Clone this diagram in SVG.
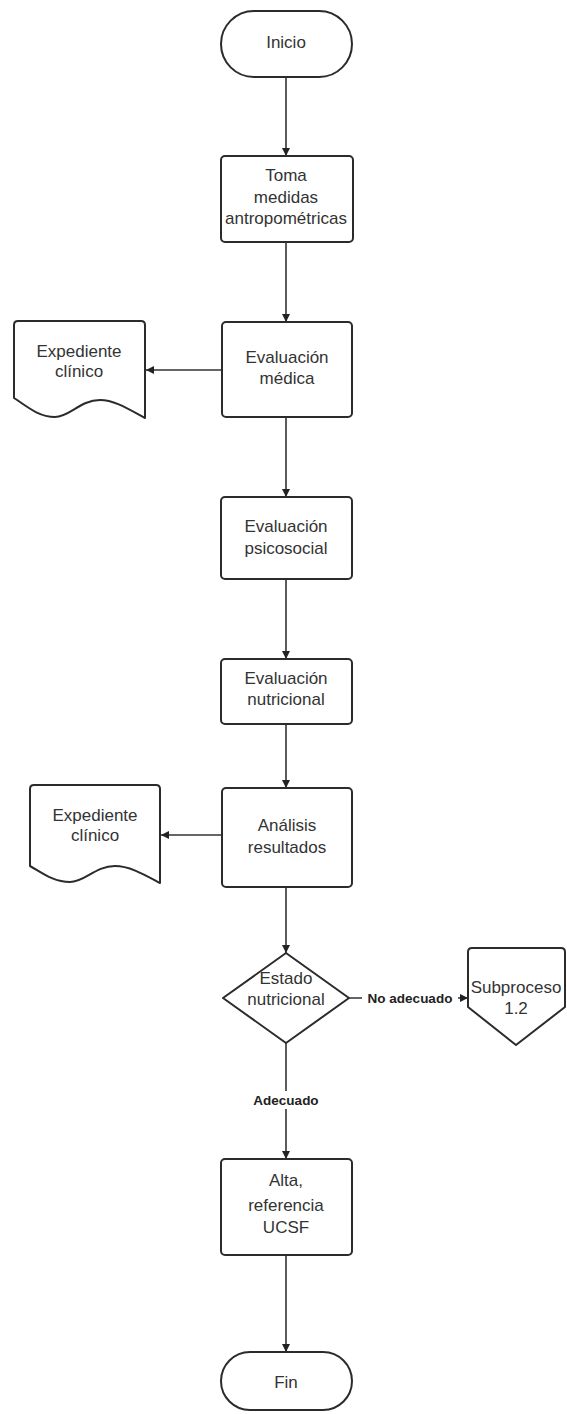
<svg xmlns="http://www.w3.org/2000/svg" width="567" height="1414" viewBox="0 0 567 1414">
<style>
.s{fill:#fff;stroke:#2b2b2b;stroke-width:2;stroke-linejoin:round}
.t{font-family:"Liberation Sans",Arial,sans-serif;font-size:17px;fill:#333;text-anchor:middle}
.l{font-family:"Liberation Sans",Arial,sans-serif;font-size:13.5px;font-weight:bold;fill:#222;text-anchor:middle}
.c{fill:none;stroke:#333;stroke-width:1.6}
</style>
<defs>
<marker id="a" viewBox="0 0 10 10" refX="10" refY="5" markerWidth="5" markerHeight="5" orient="auto" markerUnits="strokeWidth">
<path d="M0,0 L10,5 L0,10 z" fill="#222"/>
</marker>
</defs>
<rect width="567" height="1414" fill="#fff"/>
<g id="connectors">
<line class="c" x1="286" y1="77" x2="286" y2="156" marker-end="url(#a)"/>
<line class="c" x1="286" y1="242" x2="286" y2="322" marker-end="url(#a)"/>
<line class="c" x1="222" y1="370" x2="146" y2="370" marker-end="url(#a)"/>
<line class="c" x1="286" y1="417" x2="286" y2="497" marker-end="url(#a)"/>
<line class="c" x1="286" y1="579" x2="286" y2="659" marker-end="url(#a)"/>
<line class="c" x1="286" y1="724" x2="286" y2="788" marker-end="url(#a)"/>
<line class="c" x1="222" y1="835" x2="161" y2="835" marker-end="url(#a)"/>
<line class="c" x1="286" y1="887" x2="286" y2="953" marker-end="url(#a)"/>
<line class="c" x1="349" y1="998" x2="468" y2="998" marker-end="url(#a)"/>
<line class="c" x1="286" y1="1043" x2="286" y2="1159" marker-end="url(#a)"/>
<line class="c" x1="286" y1="1255" x2="286" y2="1352" marker-end="url(#a)"/>
<rect x="362" y="989" width="96" height="18" fill="#fff"/>
<text class="l" x="410" y="1003">No adecuado</text>
<rect x="250" y="1091" width="72" height="18" fill="#fff"/>
<text class="l" x="286" y="1105">Adecuado</text>
</g>
<g id="inicio">
<rect class="s" x="221" y="11" width="131" height="66" rx="33"/>
<text class="t" x="286" y="48">Inicio</text>
</g>
<g id="toma">
<rect class="s" x="221" y="156" width="132" height="86" rx="4"/>
<text class="t" x="286" y="181">Toma</text>
<text class="t" x="286" y="203">medidas</text>
<text class="t" x="286" y="224">antropométricas</text>
</g>
<g id="medica">
<rect class="s" x="222" y="322" width="130" height="95" rx="4"/>
<text class="t" x="287" y="363">Evaluación</text>
<text class="t" x="287" y="384">médica</text>
</g>
<g id="expediente1">
<path class="s" d="M18,321 H141 Q145,321 145,325 V418 C130,410 115,400 100,400 C80,400 70,417 55,417 C38,417 25,405 14,398 V325 Q14,321 18,321 Z"/>
<text class="t" x="79" y="357">Expediente</text>
<text class="t" x="79" y="377">clínico</text>
</g>
<g id="psicosocial">
<rect class="s" x="221" y="497" width="131" height="82" rx="4"/>
<text class="t" x="286" y="532">Evaluación</text>
<text class="t" x="286" y="554">psicosocial</text>
</g>
<g id="nutricional">
<rect class="s" x="221" y="659" width="131" height="65" rx="4"/>
<text class="t" x="286" y="684">Evaluación</text>
<text class="t" x="286" y="705">nutricional</text>
</g>
<g id="analisis">
<rect class="s" x="222" y="788" width="130" height="99" rx="4"/>
<text class="t" x="287" y="831">Análisis</text>
<text class="t" x="287" y="853">resultados</text>
</g>
<g id="expediente2">
<path class="s" d="M34,785 H156 Q160,785 160,789 V883 C145,875 130,866 115,866 C95,866 85,882 70,882 C53,882 41,872 30,866 V789 Q30,785 34,785 Z"/>
<text class="t" x="95" y="821">Expediente</text>
<text class="t" x="95" y="841">clínico</text>
</g>
<g id="estado">
<path class="s" d="M286,953 L349,998 L286,1043 L223,998 Z"/>
<text class="t" x="286" y="984">Estado</text>
<text class="t" x="286" y="1005">nutricional</text>
</g>
<g id="subproceso">
<path class="s" d="M472,948 H561 Q565,948 565,952 V1007 L516,1045 L468,1007 V952 Q468,948 472,948 Z"/>
<text class="t" x="516" y="993">Subproceso</text>
<text class="t" x="516" y="1014">1.2</text>
</g>
<g id="alta">
<rect class="s" x="221" y="1159" width="131" height="96" rx="4"/>
<text class="t" x="286" y="1186">Alta,</text>
<text class="t" x="286" y="1211">referencia</text>
<text class="t" x="286" y="1233">UCSF</text>
</g>
<g id="fin">
<rect class="s" x="221" y="1352" width="131" height="58" rx="29"/>
<text class="t" x="286" y="1388">Fin</text>
</g>
</svg>
